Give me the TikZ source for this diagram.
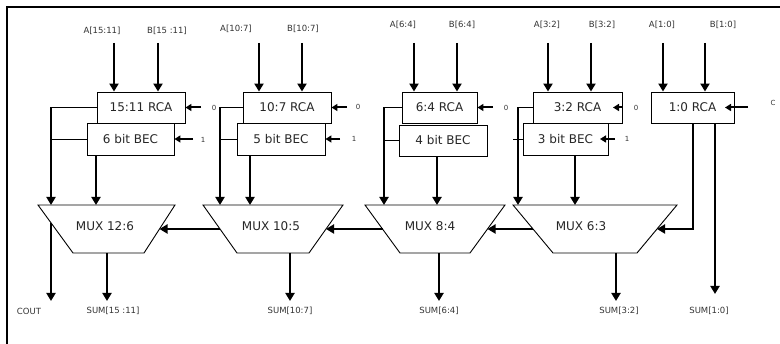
\documentclass[tikz,border=0pt]{standalone}
\usepackage{fontspec}
\setmainfont{DejaVu Sans}
\usetikzlibrary{arrows.meta,calc}
\begin{document}
\begin{tikzpicture}[x=1pt,y=-1pt,
  blk/.style={draw, line width=0.9pt, inner sep=0pt, font=\fontsize{12}{14}\selectfont, text=black!85},
  lbl/.style={font=\fontsize{8.5}{10}\selectfont, inner sep=0pt, text=black!80},
  tinylbl/.style={font=\fontsize{7}{8}\selectfont, inner sep=0pt, text=black!80},
  muxtxt/.style={font=\fontsize{12}{14}\selectfont, inner sep=0pt, text=black!85},
  bigarrow/.style={line width=2.3pt, -{Triangle[length=8pt,width=9pt]}},
  smallarrow/.style={line width=2pt, -{Triangle[length=6pt,width=7pt]}},
  bus/.style={line width=2.3pt},
  tap/.style={line width=0.8pt},
  muxline/.style={line width=0.9pt, line join=miter}
]
\useasboundingbox (0,0) rectangle (780,344);
% frame
\coordinate (fbl) at (7,344); \coordinate (ftl) at (7,7); \coordinate (ftr) at (780,7);
\draw[line width=2.5pt] (fbl) -- (ftl) -- (ftr);

% ---------- boxes ----------
\node[blk, minimum width=88pt, minimum height=31pt] (rca1) at (141,107.5) {15:11 RCA};
\node[blk, minimum width=87pt, minimum height=32pt] (bec1) at (130.5,139) {6 bit BEC};
\node[blk, minimum width=88pt, minimum height=31pt] (rca2) at (287,107.5) {10:7 RCA};
\node[blk, minimum width=88pt, minimum height=32pt] (bec2) at (281,139) {5 bit BEC};
\node[blk, minimum width=75pt, minimum height=31pt] (rca3) at (439.5,107.5) {6:4 RCA};
\node[blk, minimum width=88pt, minimum height=31pt] (bec3) at (443,140.5) {4 bit BEC};
\node[blk, minimum width=89pt, minimum height=31pt] (rca4) at (577.5,107.5) {3:2 RCA};
\node[blk, minimum width=85pt, minimum height=32pt] (bec4) at (565.5,139) {3 bit BEC};
\node[blk, minimum width=83pt, minimum height=31pt] (rca5) at (692.5,107.5) {1:0 RCA};

% ---------- input labels and arrows ----------
\node[lbl] (a1) at (102,31) {A[15:11]};
\node[lbl] (b1) at (167,31) {B[15 :11]};
\node[lbl] (a2) at (236,29) {A[10:7]};
\node[lbl] (b2) at (303,29) {B[10:7]};
\node[lbl] (a3) at (403,25) {A[6:4]};
\node[lbl] (b3) at (462,25) {B[6:4]};
\node[lbl] (a4) at (547,25) {A[3:2]};
\node[lbl] (b4) at (602,25) {B[3:2]};
\node[lbl] (a5) at (662,25) {A[1:0]};
\node[lbl] (b5) at (723,25) {B[1:0]};

\foreach \n/\x/\bx in {ia1/114/rca1, ib1/158/rca1, ia2/259/rca2, ib2/302/rca2,
  ia3/414/rca3, ib3/457/rca3, ia4/548/rca4, ib4/591/rca4, ia5/663/rca5, ib5/705/rca5}{
  \coordinate (\n) at (\x,43);
  \draw[bigarrow] (\n) -- (\n |- \bx.north);
}

% ---------- control inputs ----------
\node[tinylbl] (z1) at (214,108) {0};
\node[tinylbl] (o1) at (203,140) {1};
\node[tinylbl] (z2) at (358,107) {0};
\node[tinylbl] (o2) at (354,139) {1};
\node[tinylbl] (z3) at (506,108) {0};
\node[tinylbl] (z4) at (636,108) {0};
\node[tinylbl] (o4) at (627,139) {1};
\node[tinylbl] (cin) at (773,103) {C};

\coordinate (cz1) at (201,107.5); \draw[smallarrow] (cz1) -- (rca1.east);
\coordinate (co1) at (193,139);   \draw[smallarrow] (co1) -- (bec1.east);
\coordinate (cz2) at (347,107.5); \draw[smallarrow] (cz2) -- (rca2.east);
\coordinate (co2) at (340,139);   \draw[smallarrow] (co2) -- (bec2.east);
\coordinate (cz3) at (493,107.5); \draw[smallarrow] (cz3) -- (rca3.east);
\coordinate (cz4) at (622,107.5); \coordinate (tz4) at (613,107.5); \draw[smallarrow] (cz4) -- (tz4);
\coordinate (co4) at (615,139);   \coordinate (to4) at (600,139); \draw[smallarrow] (co4) -- (to4);
\coordinate (cc5) at (748,107.5); \coordinate (tc5) at (725,107.5); \draw[smallarrow] (cc5) -- (tc5);

% ---------- MUX shapes ----------
\coordinate (m1tl) at (38,205);  \coordinate (m1tr) at (175,205); \coordinate (m1br) at (144,253); \coordinate (m1bl) at (73,253);
\coordinate (m2tl) at (203,205); \coordinate (m2tr) at (343,205); \coordinate (m2br) at (309,253); \coordinate (m2bl) at (237,253);
\coordinate (m3tl) at (365,205); \coordinate (m3tr) at (505,205); \coordinate (m3br) at (470,253); \coordinate (m3bl) at (400,253);
\coordinate (m4tl) at (513,205); \coordinate (m4tr) at (677,205); \coordinate (m4br) at (637,253); \coordinate (m4bl) at (553,253);
\foreach \m in {1,2,3,4}{
  \draw[muxline] (m\m tl) -- (m\m tr) -- (m\m br) -- (m\m bl) -- cycle;
}
\node[muxtxt] (mux1) at (105,226) {MUX 12:6};
\node[muxtxt] (mux2) at (271,226) {MUX 10:5};
\node[muxtxt] (mux3) at (430,226) {MUX 8:4};
\node[muxtxt] (mux4) at (581,226) {MUX 6:3};

% ---------- carry buses and taps ----------
\foreach \k/\x in {1/51, 2/220, 3/384, 4/518}{
  \coordinate (bus\k) at (\x,0);
  \draw[tap] (bus\k |- rca\k.west) -- (rca\k.west);
  \draw[tap] (bus\k |- bec\k.west) -- (bec\k.west);
  \draw[bus, -{Triangle[length=8pt,width=9pt]}] (bus\k |- rca\k.west) -- (bus\k |- m\k tl);
}
\coordinate (tick4) at (513,139);
\draw[tap] (tick4) -- (bus4 |- bec4.west);
% BEC outputs
\foreach \k/\x in {1/96, 2/250, 3/437, 4/575}{
  \coordinate (bo\k) at (\x,0);
  \draw[bigarrow] (bo\k |- bec\k.south) -- (bo\k |- m\k tl);
}

% ---------- carry chain between MUXes ----------
\draw[bigarrow] ($(m2tl)!0.5!(m2bl)$) -- ($(m1tr)!0.5!(m1br)$);
\draw[bigarrow] ($(m3tl)!0.5!(m3bl)$) -- ($(m2tr)!0.5!(m2br)$);
\draw[bigarrow] ($(m4tl)!0.5!(m4bl)$) -- ($(m3tr)!0.5!(m3br)$);
\coordinate (r5c) at (693,0);
\coordinate (m4rm) at ($(m4tr)!0.5!(m4br)$);
\draw[bigarrow] (r5c |- rca5.south) -- (r5c |- m4rm) -- (m4rm);

% ---------- outputs ----------
\node[lbl] (cout) at (29,311) {COUT};
\node[lbl] (sum1) at (113,311) {SUM[15 :11]};
\node[lbl] (sum2) at (290,311) {SUM[10:7]};
\node[lbl] (sum3) at (439,311) {SUM[6:4]};
\node[lbl] (sum4) at (619,311) {SUM[3:2]};
\node[lbl] (sum5) at (709,311) {SUM[1:0]};

\coordinate (cs) at (51,223); \coordinate (ce) at (51,301);
\draw[bigarrow] (cs) -- (ce);
\foreach \k/\x in {1/107, 2/290, 3/439, 4/616}{
  \coordinate (so\k) at (\x,253); \coordinate (se\k) at (\x,301);
  \draw[bigarrow] (so\k) -- (se\k);
}
\coordinate (s5) at (715,0); \coordinate (se5) at (715,294);
\draw[bigarrow] (s5 |- rca5.south) -- (se5);
\end{tikzpicture}
\end{document}
